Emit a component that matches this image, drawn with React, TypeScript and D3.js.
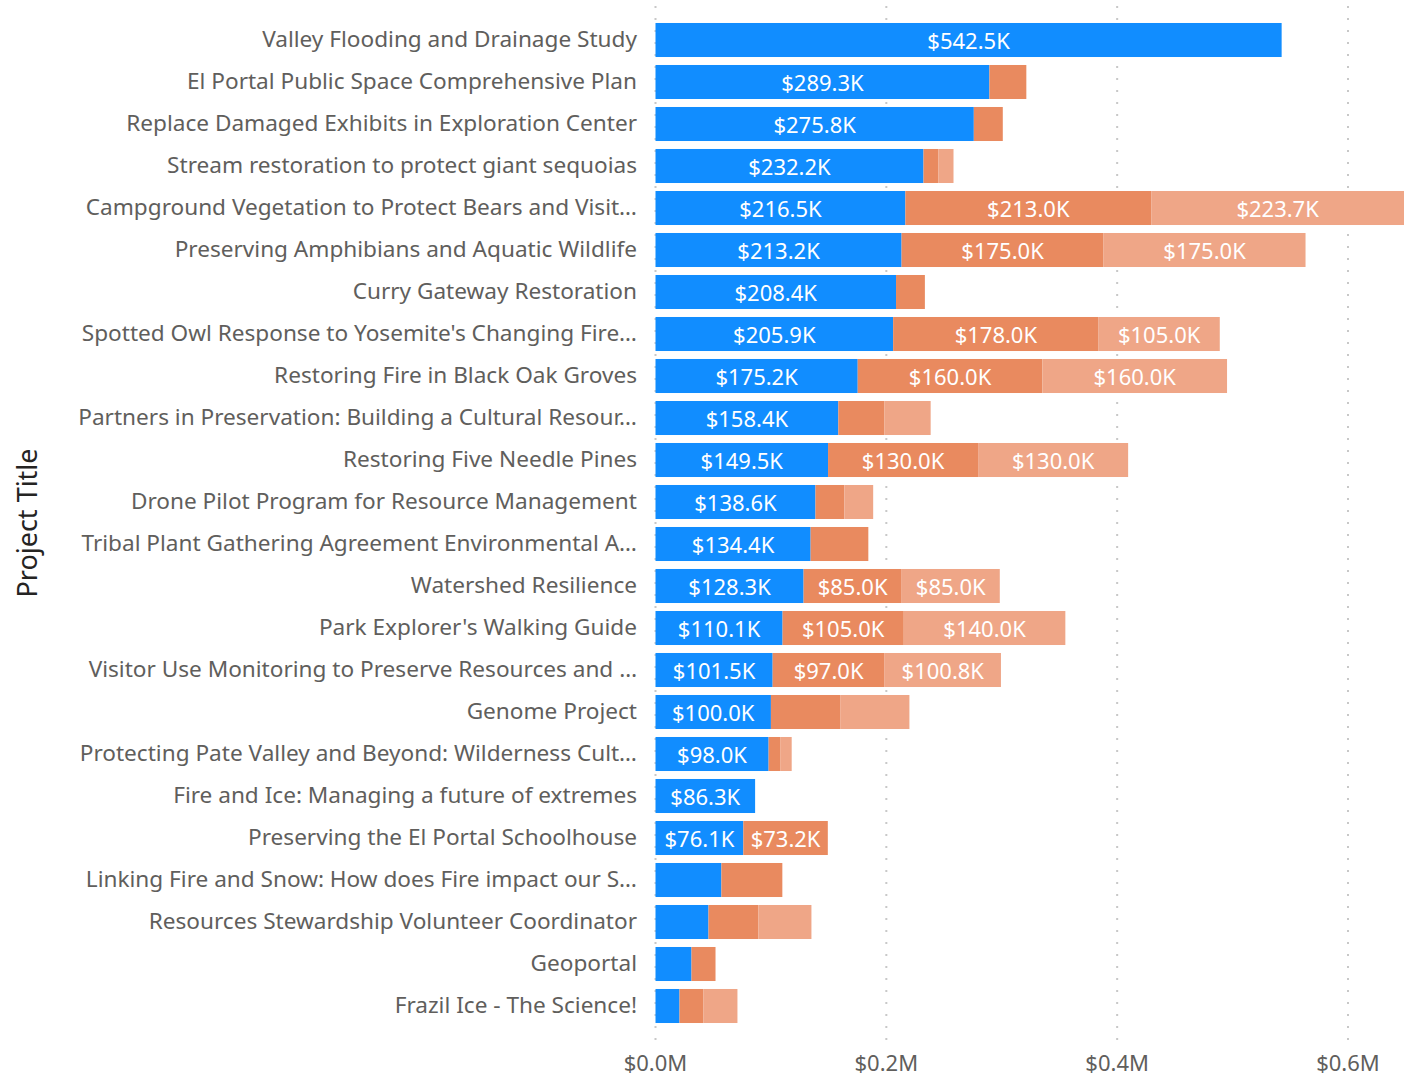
import React from "react";
import * as d3 from "d3";

const projects = [
  "Valley Flooding and Drainage Study",
  "El Portal Public Space Comprehensive Plan",
  "Replace Damaged Exhibits in Exploration Center",
  "Stream restoration to protect giant sequoias",
  "Campground Vegetation to Protect Bears and Visit…",
  "Preserving Amphibians and Aquatic Wildlife",
  "Curry Gateway Restoration",
  "Spotted Owl Response to Yosemite's Changing Fire…",
  "Restoring Fire in Black Oak Groves",
  "Partners in Preservation: Building a Cultural Resour…",
  "Restoring Five Needle Pines",
  "Drone Pilot Program for Resource Management",
  "Tribal Plant Gathering Agreement Environmental A…",
  "Watershed Resilience",
  "Park Explorer's Walking Guide",
  "Visitor Use Monitoring to Preserve Resources and …",
  "Genome Project",
  "Protecting Pate Valley and Beyond: Wilderness Cult…",
  "Fire and Ice: Managing a future of extremes",
  "Preserving the El Portal Schoolhouse",
  "Linking Fire and Snow: How does Fire impact our S…",
  "Resources Stewardship Volunteer Coordinator",
  "Geoportal",
  "Frazil Ice - The Science!",
];

// amounts in $K
const year1 = [542.5, 289.3, 275.8, 232.2, 216.5, 213.2, 208.4, 205.9, 175.2, 158.4, 149.5, 138.6, 134.4, 128.3, 110.1, 101.5, 100.0, 98.0, 86.3, 76.1, 57.1, 45.9, 31.2, 20.8];
const year2 = [0, 32.0, 25.1, 13.0, 213.0, 175.0, 25.0, 178.0, 160.0, 40.0, 130.0, 25.0, 50.0, 85.0, 105.0, 97.0, 60.0, 10.0, 0, 73.2, 52.8, 43.3, 20.8, 20.8];
const year3 = [0, 0, 0, 13.0, 223.7, 175.0, 0, 105.0, 160.0, 40.0, 130.0, 25.0, 0, 85.0, 140.0, 100.8, 60.0, 10.0, 0, 0, 0, 45.9, 0, 29.4];

const xTicks = [0, 200, 400, 600];
const seriesColors = ["#118DFF", "#E98A5F", "#EFA687"];

const W = 1404;
const H = 1076;
const FONT = "'Segoe UI', 'Noto Sans', 'Open Sans', sans-serif";

export default function App() {
  const x = d3.scaleLinear().domain([0, 600]).range([655.5, 1348]);
  const y = d3.scaleBand<string>().domain(projects).range([19, 1027]).paddingInner(0.19).paddingOuter(0.095);

  const rows = projects.map((p, i) => ({ p, vals: [year1[i], year2[i], year3[i]] }));
  const fmt = (v: number) => `$${v.toFixed(1)}K`;

  return (
    <svg width={W} height={H} style={{ position: "absolute", left: 0, top: 0, fontFamily: FONT }}>
      <defs>
        <clipPath id="plot">
          <rect x={0} y={0} width={W} height={H} />
        </clipPath>
      </defs>
      <g clipPath="url(#plot)">
        {xTicks.map((t) => (
          <line key={t} x1={x(t)} x2={x(t)} y1={6} y2={1044} stroke="#C8C8C8" strokeWidth={2} strokeDasharray="2,10" />
        ))}
        {rows.map((r) => {
          let acc = 0;
          return (
            <g key={r.p}>
              {r.vals.map((v, k) => {
                if (v <= 0) return null;
                const x0 = x(acc);
                acc += v;
                const x1 = x(acc);
                const bw = x1 - x0;
                return (
                  <g key={k}>
                    <rect x={x0} y={y(r.p)!} width={bw} height={y.bandwidth()} fill={seriesColors[k]} />
                    {v >= 70 && (
                      <text
                        x={(x0 + Math.min(x1, W)) / 2}
                        y={y(r.p)! + y.bandwidth() / 2 + 9}
                        textAnchor="middle"
                        fill="#FFFFFF"
                        fontSize={22}
                      >
                        {fmt(v)}
                      </text>
                    )}
                  </g>
                );
              })}
            </g>
          );
        })}
      </g>
      {projects.map((p) => (
        <text key={p} x={637} y={y(p)! + y.bandwidth() / 2 + 7} textAnchor="end" fill="#605E5C" fontSize={22.6}>
          {p}
        </text>
      ))}
      {xTicks.map((t) => (
        <text key={t} x={x(t)} y={1071} textAnchor="middle" fill="#605E5C" fontSize={22}>
          {`$${(t / 1000).toFixed(1)}M`}
        </text>
      ))}
      <text transform="translate(37,523) rotate(-90)" textAnchor="middle" fill="#252423" fontSize={27}>
        Project Title
      </text>
    </svg>
  );
}
